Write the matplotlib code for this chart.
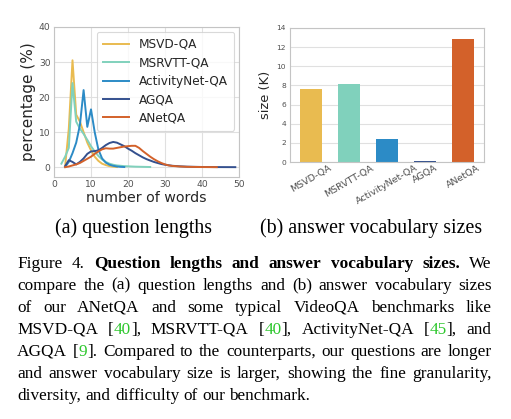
import re
import matplotlib
matplotlib.use('Agg')
import matplotlib.pyplot as plt

# ---------------- data ----------------
datasets = ["MSVD-QA", "MSRVTT-QA", "ActivityNet-QA", "AGQA", "ANetQA"]
colors = ["#E9BB50", "#80D1BC", "#2C8BC6", "#34508E", "#D3612A"]

msvd_x = [3, 4, 5, 6, 7, 8, 9, 10, 11, 12, 13, 14, 15, 16, 17]
msvd_y = [0.2, 11, 30.5, 15, 13, 10, 7, 4.8, 3, 1.8, 1.0, 0.6, 0.3, 0.15, 0.05]

msrvtt_x = [2, 3, 4, 5, 6, 7, 8, 9, 10, 11, 12, 13, 14, 15, 16, 17, 18, 19, 20, 22, 24, 26]
msrvtt_y = [1.0, 3.0, 5.5, 24, 13, 11, 9.5, 7.8, 6, 4.5, 3.2, 2.2, 1.5, 1.0, 0.7, 0.5, 0.4, 0.3, 0.25, 0.15, 0.1, 0.05]

anet_x = [3, 4, 5, 6, 7, 8, 9, 10, 11, 12, 13, 14, 15, 16, 17, 18, 19]
anet_y = [0.1, 1.5, 4, 7, 12, 22, 11.5, 16.5, 10, 5, 2.5, 1.3, 0.7, 0.4, 0.2, 0.1, 0.05]

agqa_x = [3, 4, 5, 6, 7, 8, 9, 10, 11, 12, 13, 14, 15, 16, 17, 18, 19, 20, 21, 22, 23, 24,
          25, 26, 27, 28, 29, 30, 32, 34, 36, 38, 40, 44, 49]
agqa_y = [0.3, 2.0, 1.5, 0.8, 1.5, 2.5, 3.8, 4.5, 4.6, 4.8, 5.5, 6.3, 6.9, 7.2, 7.0, 6.5, 6.0,
          5.3, 4.7, 4.0, 3.4, 2.8, 2.3, 1.9, 1.5, 1.2, 0.9, 0.7, 0.4, 0.25, 0.15, 0.1, 0.06, 0.03, 0.01]

anetqa_x = [3, 4, 5, 6, 7, 8, 9, 10, 11, 12, 13, 14, 15, 16, 17, 18, 19, 20, 21, 22, 23, 24,
            25, 26, 27, 28, 29, 30, 31, 32, 34, 36, 40, 44]
anetqa_y = [0.0, 0.2, 0.5, 0.8, 1.2, 1.8, 2.4, 3.0, 3.8, 4.5, 5.1, 5.4, 5.3, 5.3, 5.5, 5.7, 5.9,
            6.0, 6.1, 6.1, 5.5, 4.6, 3.8, 3.0, 2.3, 1.7, 1.2, 0.8, 0.5, 0.35, 0.2, 0.1, 0.04, 0.01]

vocab_sizes = [7.6, 8.1, 2.4, 0.15, 12.9]

len_xticks = [0, 10, 20, 30, 40, 50]
len_yticks = [0, 10, 20, 30, 40]
voc_yticks = [0, 2, 4, 6, 8, 10, 12, 14]

caption_lines = [
    "Figure 4. *Question *lengths *and *answer *vocabulary *sizes. We",
    "compare the (a) question lengths and (b) answer vocabulary sizes",
    "of our ANetQA and some typical VideoQA benchmarks like",
    "MSVD-QA [{40}], MSRVTT-QA [{40}], ActivityNet-QA [{45}], and",
    "AGQA [{9}]. Compared to the counterparts, our questions are longer",
    "and answer vocabulary size is larger, showing the fine granularity,",
    "diversity, and difficulty of our benchmark.",
]
sub_a = "(a) question lengths"
sub_b = "(b) answer vocabulary sizes"

# ---------------- figure ----------------
W, H = 511, 419
fig = plt.figure(figsize=(W / 100, H / 100), dpi=100)
fig.patch.set_facecolor("white")


def rect(l, t, r, b):
    return [l / W, 1 - b / H, (r - l) / W, (b - t) / H]


GRID = "#e0e0e0"
SPINE = "#c4c4c4"
TICKC = "#505050"
LABC = "#262626"

# (a) line plot
ax1 = fig.add_axes(rect(54, 27, 239, 177))
series = [(msvd_x, msvd_y), (msrvtt_x, msrvtt_y), (anet_x, anet_y),
          (agqa_x, agqa_y), (anetqa_x, anetqa_y)]
for (xs, ys), c, name in zip(series, colors, datasets):
    ax1.plot(xs, ys, color=c, lw=1.4, label=name)
ax1.set_xlim(0, 50)
ax1.set_ylim(-2.8, 40)
ax1.set_xticks(len_xticks)
ax1.set_yticks(len_yticks)
ax1.grid(True, color=GRID, lw=0.8)
ax1.set_axisbelow(True)
for s in ax1.spines.values():
    s.set_color(SPINE)
    s.set_linewidth(0.8)
ax1.tick_params(length=0, colors=TICKC, labelsize=6.6, pad=2.5)
ax1.set_xlabel("number of words", fontsize=10.3, color=LABC, labelpad=1)
ax1.set_ylabel("percentage (%)", fontsize=11.0, color=LABC, labelpad=2)
leg = ax1.legend(loc="upper right", fontsize=8.7, handlelength=2.2, labelspacing=0.45,
                 borderaxespad=0.4, frameon=True, fancybox=True, handletextpad=0.8,
                 borderpad=0.5)
leg.get_frame().set_edgecolor("#d0d0d0")
leg.get_frame().set_linewidth(0.8)
for t in leg.get_texts():
    t.set_color(LABC)

# (b) bar chart
ax2 = fig.add_axes(rect(290, 28, 484, 162))
xpos = list(range(len(datasets)))
ax2.bar(xpos, vocab_sizes, width=0.6, color=colors)
ax2.set_xlim(-0.55, 4.55)
ax2.set_ylim(0, 14)
ax2.set_yticks(voc_yticks)
ax2.set_xticks(xpos)
ax2.set_xticklabels(datasets, rotation=30)
ax2.grid(True, axis="y", color=GRID, lw=0.8)
ax2.set_axisbelow(True)
for s in ax2.spines.values():
    s.set_color(SPINE)
    s.set_linewidth(0.8)
ax2.tick_params(length=0, colors=TICKC, pad=3)
ax2.tick_params(axis="y", labelsize=5.4)
ax2.tick_params(axis="x", labelsize=6.8, pad=1)
ax2.set_ylabel("size (K)", fontsize=9.4, color=LABC, labelpad=3)

# sub captions
SERIF = "Liberation Serif"
fig.text(133.5 / W, 1 - 233 / H, sub_a, fontsize=14.3, family=SERIF, ha="center", va="baseline")
fig.text(371 / W, 1 - 233 / H, sub_b, fontsize=14.3, family=SERIF, ha="center", va="baseline")

# justified caption
renderer = fig.canvas.get_renderer()
CAP_FS = 12.4
GREEN = "#2ec72e"
LEFT, RIGHT = 17.3, 491.7
BASE0, STEP = 267.5, 22.0

_cache = {}


def raw(txt, weight):
    key = (txt, weight)
    if key not in _cache:
        t = fig.text(0, 0, txt, fontsize=CAP_FS, family=SERIF, weight=weight)
        _cache[key] = t.get_window_extent(renderer).width
        t.remove()
    return _cache[key]


def adv(txt, weight):
    # advance width, using guard characters so side bearings are counted
    return raw("|" + txt + "|", weight) - raw("||", weight)


space_w = adv(" ", "normal")

for li, line in enumerate(caption_lines):
    words = []
    for wd in line.split(" "):
        weight = "normal"
        if wd.startswith("*"):
            weight = "bold"
            wd = wd[1:]
        segs = []
        for part in re.split(r"(\{[^}]*\})", wd):
            if not part:
                continue
            if part.startswith("{"):
                segs.append((part[1:-1], GREEN))
            else:
                segs.append((part, "black"))
        full = "".join(s for s, _ in segs)
        offs = []
        prefix = ""
        for s, _ in segs:
            offs.append(adv(prefix, weight) if prefix else 0.0)
            prefix += s
        words.append((segs, offs, adv(full, weight), weight))
    total = sum(w[2] for w in words)
    last = li == len(caption_lines) - 1
    gap = space_w if last else (RIGHT - LEFT - total) / (len(words) - 1)
    x = LEFT
    y = 1 - (BASE0 + STEP * li) / H
    for segs, offs, ww, weight in words:
        for (s, c), o in zip(segs, offs):
            fig.text((x + o) / W, y, s, fontsize=CAP_FS, family=SERIF, weight=weight,
                     color=c, ha="left", va="baseline")
        x += ww + gap

fig.savefig("out.png", dpi=100, facecolor="white")
